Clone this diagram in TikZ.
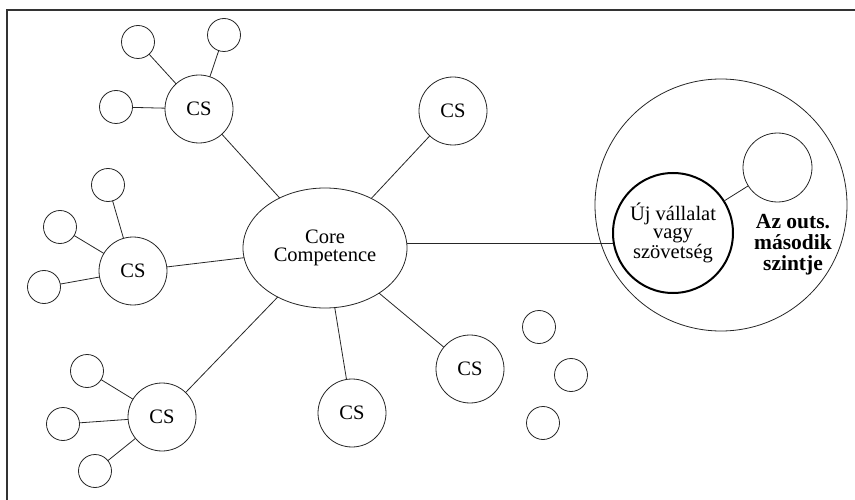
\documentclass[tikz,border=0pt]{standalone}
\usepackage{fontspec}
\setmainfont{Liberation Serif}
\usetikzlibrary{shapes.geometric}
\begin{document}
\begin{tikzpicture}[x=1pt,y=-1pt,
  ln/.style={draw=black!85,line width=0.8pt},
  txt/.style={font=\fontsize{20.5}{18.5}\selectfont,align=center},
  cs/.style={circle,ln,minimum size=68pt,inner sep=0pt,outer sep=0pt,txt},
  sm/.style={circle,ln,minimum size=33pt,inner sep=0pt,outer sep=0pt},
  frame/.style={draw=black!80,line width=1.6pt}]
\useasboundingbox (0,0) rectangle (855,500);
\coordinate (f1) at (7,500);
\coordinate (f2) at (7,10);
\coordinate (f3) at (855,10);
\draw[frame] (f1) -- (f2) -- (f3);
% core
\node[ellipse,ln,minimum width=164pt,minimum height=120pt,inner sep=0pt,outer sep=0pt,txt] (core) at (325,248) {Core\\Competence};
% CS nodes
\node[cs] (cs1) at (199,109) {CS};
\node[cs] (cs2) at (133,271) {CS};
\node[cs] (cs3) at (162,417) {CS};
\node[cs] (cs4) at (453,111) {CS};
\node[cs] (cs5) at (352,413) {CS};
\node[cs] (cs6) at (470,369) {CS};
% small circles
\node[sm] (s1a) at (138,42) {};
\node[sm] (s1b) at (224,35) {};
\node[sm] (s1c) at (116,107) {};
\node[sm] (s2a) at (108,185) {};
\node[sm] (s2b) at (60,227) {};
\node[sm] (s2c) at (44,287) {};
\node[sm] (s3a) at (87,371) {};
\node[sm] (s3b) at (63,424) {};
\node[sm] (s3c) at (95,471) {};
\node[sm] (f1c) at (539,327) {};
\node[sm] (f2c) at (571,375) {};
\node[sm] (f3c) at (543,423) {};
% outsourcing
\node[circle,ln,minimum size=252pt,inner sep=0pt,outer sep=0pt] (big) at (721,205) {};
\node[circle,draw=black,line width=2pt,minimum size=120pt,inner sep=0pt,outer sep=0pt,txt] (new) at (673,233) {Új vállalat\\vagy\\szövetség};
\node[circle,ln,minimum size=69pt,inner sep=0pt,outer sep=0pt] (sec) at (777.5,167.5) {};
\node[font=\bfseries\fontsize{21.5}{21}\selectfont,align=center] (lvl) at (793,245) {Az outs.\\második\\szintje};
% connectors
\draw[ln] (core) -- (cs1);
\draw[ln] (core) -- (cs2);
\draw[ln] (core) -- (cs3);
\draw[ln] (core) -- (cs4);
\draw[ln] (core) -- (cs5);
\draw[ln] (core) -- (cs6);
\draw[ln] (cs1) -- (s1a);
\draw[ln] (cs1) -- (s1b);
\draw[ln] (cs1) -- (s1c);
\draw[ln] (cs2) -- (s2a);
\draw[ln] (cs2) -- (s2b);
\draw[ln] (cs2) -- (s2c);
\draw[ln] (cs3) -- (s3a);
\draw[ln] (cs3) -- (s3b);
\draw[ln] (cs3) -- (s3c);
\coordinate (lk) at (0,243);
\draw[ln] (core.east |- lk) -- (new.west |- lk);
\draw[ln] (new) -- (sec);
\end{tikzpicture}
\end{document}
